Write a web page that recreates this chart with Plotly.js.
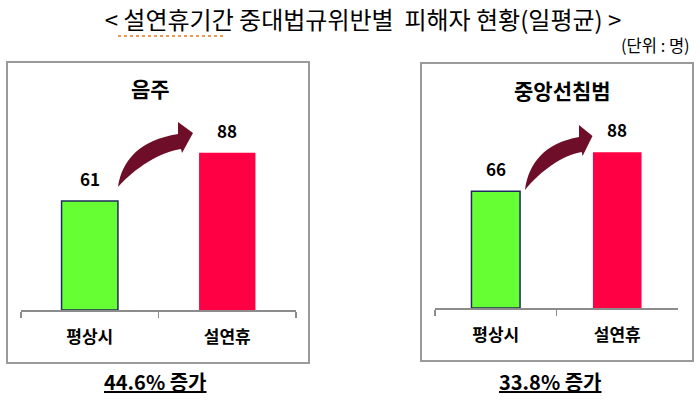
<!DOCTYPE html>
<html>
<head>
<meta charset="utf-8">
<script src="https://cdn.plot.ly/plotly-3.0.1.min.js"></script>
<style>html,body{margin:0;padding:0;background:#fff;}#chart{width:700px;height:403px;}</style>
</head>
<body>
<div id="chart"></div>
<script>
// ---- data ----
const categories = ['평상시', '설연휴'];
const drunkValues = [61, 88];
const centerLineValues = [66, 88];
const panelTitles = ['음주', '중앙선침범'];
const increaseLabels = ['44.6% 증가', '33.8% 증가'];
const mainTitle = '&lt; 설연휴기간 중대법규위반별  피해자 현황(일평균) &gt;';
const unitLabel = '(단위 : 명)';

// ---- styling helpers ----
const W = 700, H = 403;
const FONT = '"Noto Sans CJK KR", "Noto Sans", sans-serif';
const px = x => x / W;
const py = y => 1 - y / H;
const barColors = ['#66FF33', '#FF0044'];
const barLines = ['#1F2A5C', 'rgba(0,0,0,0)'];
const arrowColor = '#6E0E28';

function arrowPath(tx, ty, sx) {
  // arrow outline relative to its tail point (pixel units), converted to paper
  const pts = [
    ['M', [0, 0]],
    ['C', [4, -27], [22, -47], [60, -53]],
    ['L', [60, -65]],
    ['L', [75, -54]],
    ['L', [64, -34]],
    ['L', [63, -38]],
    ['C', [42, -35], [17, -19], [0, 0]],
  ];
  let s = '';
  pts.forEach(p => {
    s += p[0] + ' ' + p.slice(1).map(q => px(tx + q[0] * sx).toFixed(5) + ',' + py(ty + q[1]).toFixed(5)).join(' ') + ' ';
  });
  return s + 'Z';
}

const traces = [
  {
    type: 'bar', x: categories, y: drunkValues, xaxis: 'x', yaxis: 'y',
    width: 0.41, cliponaxis: false, hoverinfo: 'none',
    marker: { color: barColors, line: { color: barLines, width: [1.5, 0] } }
  },
  {
    type: 'bar', x: categories, y: centerLineValues, xaxis: 'x2', yaxis: 'y2',
    width: 0.40, cliponaxis: false, hoverinfo: 'none',
    marker: { color: barColors, line: { color: barLines, width: [1.5, 0] } }
  }
];

const xCommon = {
  type: 'category', showgrid: false, zeroline: false,
  showline: true, linecolor: '#8c8c8c', linewidth: 1.5,
  ticks: 'outside', tickson: 'boundaries', ticklen: 6, tickcolor: '#8c8c8c', tickwidth: 1.5,
  ticklabelstandoff: 11,
  tickfont: { family: FONT, size: 17, color: '#000', weight: 700 },
  range: [-0.5, 1.5], fixedrange: true
};
const yCommon = { visible: false, range: [0, 130], fixedrange: true };

const valueAnns = [];
drunkValues.forEach((v, i) => valueAnns.push({
  xref: 'x', yref: 'y', x: categories[i], y: v, text: String(v), showarrow: false,
  yanchor: 'bottom', yshift: 8, font: { family: FONT, size: 17, color: '#000', weight: 700 }
}));
centerLineValues.forEach((v, i) => valueAnns.push({
  xref: 'x2', yref: 'y2', x: categories[i], y: v, text: String(v), showarrow: false,
  yanchor: 'bottom', yshift: 8, font: { family: FONT, size: 17, color: '#000', weight: 700 }
}));

const layout = {
  width: W, height: H,
  margin: { l: 0, r: 0, t: 0, b: 0 },
  paper_bgcolor: '#fff', plot_bgcolor: 'rgba(0,0,0,0)',
  showlegend: false,
  title: {
    text: mainTitle, xref: 'paper', yref: 'paper', x: px(363), y: py(21),
    xanchor: 'center', yanchor: 'middle',
    font: { family: FONT, size: 24, color: '#000' }
  },
  xaxis: Object.assign({}, xCommon, { domain: [px(21), px(296)], anchor: 'y' }),
  yaxis: Object.assign({}, yCommon, { domain: [py(310), py(77.8)], anchor: 'x' }),
  xaxis2: Object.assign({}, xCommon, { domain: [px(435), px(678)], anchor: 'y2' }),
  yaxis2: Object.assign({}, yCommon, { domain: [py(308), py(78)], anchor: 'x2' }),
  shapes: [
    { type: 'rect', xref: 'paper', yref: 'paper', x0: px(7), x1: px(309), y0: py(363), y1: py(62),
      line: { color: '#9a9a9a', width: 2 }, layer: 'below' },
    { type: 'rect', xref: 'paper', yref: 'paper', x0: px(421), x1: px(693), y0: py(361), y1: py(63),
      line: { color: '#9a9a9a', width: 2 }, layer: 'below' },
    { type: 'line', xref: 'paper', yref: 'paper', x0: px(118), x1: px(226), y0: py(36), y1: py(36),
      line: { color: '#E0781A', width: 1.5, dash: 'dot' } },
    { type: 'path', xref: 'paper', yref: 'paper', path: arrowPath(118, 187, 1.0),
      fillcolor: arrowColor, line: { width: 0 } },
    { type: 'path', xref: 'paper', yref: 'paper', path: arrowPath(525, 190, 0.9),
      fillcolor: arrowColor, line: { width: 0 } }
  ],
  annotations: valueAnns.concat([
    { xref: 'paper', yref: 'paper', x: px(150), y: py(88), text: panelTitles[0], showarrow: false,
      xanchor: 'center', yanchor: 'middle', font: { family: FONT, size: 21, color: '#000', weight: 700 } },
    { xref: 'paper', yref: 'paper', x: px(562), y: py(90), text: panelTitles[1], showarrow: false,
      xanchor: 'center', yanchor: 'middle', font: { family: FONT, size: 21, color: '#000', weight: 700 } },
    { xref: 'paper', yref: 'paper', x: px(692), y: py(45), text: unitLabel, showarrow: false,
      xanchor: 'right', yanchor: 'middle', font: { family: FONT, size: 16.5, color: '#000' } },
    { xref: 'paper', yref: 'paper', x: px(155), y: py(381), text: '<u>' + increaseLabels[0] + '</u>', showarrow: false,
      xanchor: 'center', yanchor: 'middle', font: { family: FONT, size: 20, color: '#000', weight: 700 } },
    { xref: 'paper', yref: 'paper', x: px(550), y: py(381), text: '<u>' + increaseLabels[1] + '</u>', showarrow: false,
      xanchor: 'center', yanchor: 'middle', font: { family: FONT, size: 20, color: '#000', weight: 700 } }
  ])
};

Plotly.newPlot('chart', traces, layout, { staticPlot: true, displayModeBar: false });
</script>
</body>
</html>
